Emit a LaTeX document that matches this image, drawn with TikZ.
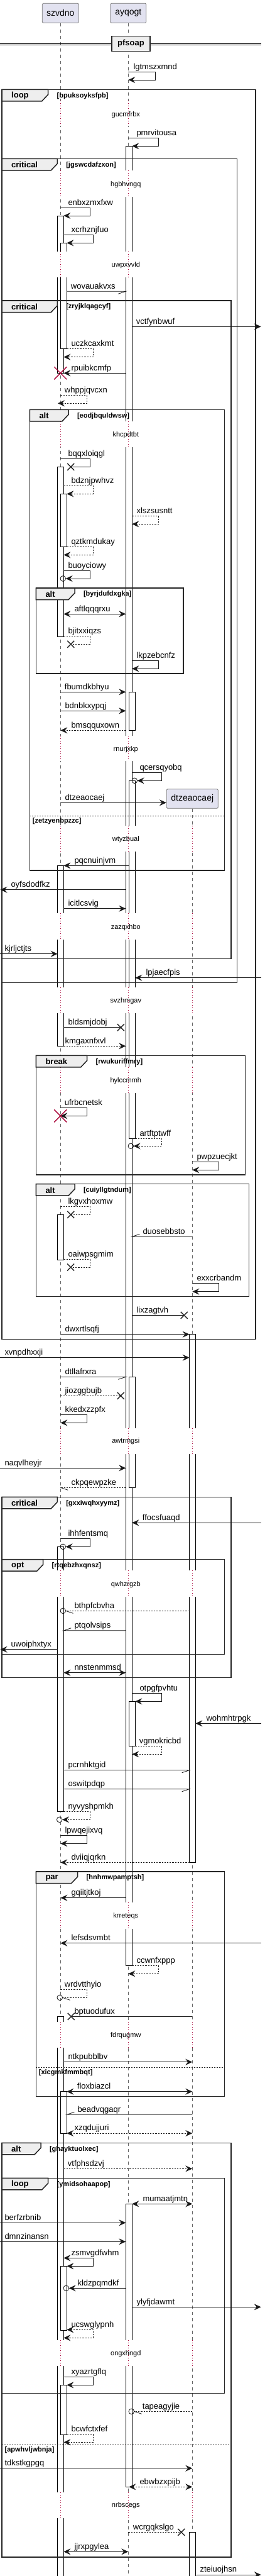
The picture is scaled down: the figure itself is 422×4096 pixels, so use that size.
\documentclass[tikz,border=0pt]{standalone}
\usepackage{fontspec}
\setmainfont{Liberation Sans}
\usetikzlibrary{arrows.meta}
\definecolor{partfill}{HTML}{E2E2F0}
\definecolor{crim}{HTML}{A80036}
\definecolor{lblgray}{HTML}{EEEEEE}
\tikzset{
 msgline/.style={line width=0.8pt, draw=black!90},
 dmsgline/.style={msgline, dash pattern=on 2.2pt off 2pt},
 arr/.style={-{Stealth[length=11pt,width=10pt,inset=4pt]}},
 biarr/.style={{Stealth[length=11pt,width=10pt,inset=4pt]}-{Stealth[length=11pt,width=10pt,inset=4pt]}},
 lbl/.style={anchor=base west, inner sep=0pt, font=\fontsize{13}{15}\selectfont},
 part/.style={draw=black!55, fill=partfill, line width=0.8pt, rounded corners=1.5pt, minimum height=31pt, inner sep=0pt, font=\fontsize{14}{16}\selectfont},
 lifeline/.style={draw=black!60, line width=0.8pt, dash pattern=on 5pt off 5pt},
 bar/.style={draw=black, fill=white, line width=0.8pt},
 dly/.style={draw=crim, line width=0.8pt, dash pattern=on 1pt off 3pt},
 dlytxt/.style={inner sep=0pt, font=\fontsize{11}{13}\selectfont},
 frameline/.style={draw=black!85, line width=1.5pt},
 framelbl/.style={anchor=west, inner sep=0pt, font=\bfseries\fontsize{13}{15}\selectfont},
 guard/.style={anchor=west, inner sep=0pt, font=\bfseries\fontsize{11}{13}\selectfont},
 elseline/.style={draw=black!85, line width=0.8pt, dash pattern=on 2pt off 2pt},
}
\newcommand\xcr[2]{\draw[line width=1.4pt,black!85] (#1-5.5,#2-5.5) -- (#1+5.5,#2+5.5) (#1-5.5,#2+5.5) -- (#1+5.5,#2-5.5);}
\newcommand\rxcr[2]{\draw[line width=1.4pt,crim] (#1-10,#2-10) -- (#1+10,#2+10) (#1-10,#2+10) -- (#1+10,#2-10);}
\newcommand\cir[2]{\draw[msgline] (#1,#2) circle[radius=4.3pt];}
\newcommand\dlyab[4]{%
 \foreach \lx in {96.3,204.3}{\fill[white] (\lx-8,#1) rectangle (\lx+14,#2); \draw[dly] (\lx,#1) -- (\lx,#2);}
 \node[dlytxt] at (200.3,#3) {#4};}
\newcommand\dlyabc[4]{%
 \foreach \lx in {96.3,204.3,306.3}{\fill[white] (\lx-8,#1) rectangle (\lx+14,#2); \draw[dly] (\lx,#1) -- (\lx,#2);}
 \node[dlytxt] at (200.3,#3) {#4};}
\newcommand\frm[7]{%
 \draw[frameline] (#1,#2) rectangle (#3,#4);
 \draw[frameline, fill=lblgray] (#1,#2) -- (#5,#2) -- (#5,#2+8) -- (#5-10,#2+18.5) -- (#1,#2+18.5) -- cycle;
 \node[framelbl] at (#1+15,#2+10) {#6};
 \node[guard] at (#5+13.8,#2+10) {#7};}
\newcommand\els[4]{%
 \draw[elseline] (#1,#3) -- (#2,#3);
 \node[guard] at (#1+4.4,#3+8.3) {#4};}
\begin{document}
\begin{tikzpicture}[x=1pt,y=-1pt]
\useasboundingbox[fill=white] (0,0) rectangle (422,4096);
% participants
\node[part, minimum width=58pt] (szv) at (96.3,20.8) {szvdno};
\node[part, minimum width=57pt] (ayq) at (204.3,20.8) {ayqogt};
\draw[lifeline] (szv.south) -- (96.3,4096);
\draw[lifeline] (ayq.south) -- (204.3,4096);
\node[part, minimum width=82pt, minimum height=30.6pt] (dtz) at (306.3,1270) {dtzeaocaej};
\draw[lifeline] (dtz.south) -- (306.3,4096);
% activation bars
\draw[bar] (91.7,343) rectangle (101.3,593.3);
\draw[bar] (96.3,386.3) rectangle (106.3,554.3);
\draw[bar] (91.7,742.3) rectangle (101.3,1012);
\draw[bar] (96.3,785.3) rectangle (106.3,869.3);
\draw[bar] (91.7,1376.3) rectangle (101.3,1663.3);
\draw[bar] (91.7,1931.3) rectangle (101.3,2003.3);
\draw[bar] (91.7,2459.3) rectangle (101.3,2880.3);
\draw[bar] (91.7,3206.3) rectangle (101.3,4110);
\draw[bar] (96.3,3325.7) rectangle (106.3,3392);
\draw[bar] (96.3,3603.3) rectangle (106.3,3705.3);
\draw[bar] (96.3,3792.3) rectangle (106.3,3871.3);
\draw[bar] (200.3,232.3) rectangle (210.3,3125.7);
\draw[bar] (205.3,1100.3) rectangle (215.3,1161.3);
\draw[bar] (205.3,1241.3) rectangle (215.3,1810);
\draw[bar] (205.3,2189.3) rectangle (215.3,2365.3);
\draw[bar] (205.3,2705.3) rectangle (215.3,2776.7);
\draw[bar] (200.3,3504.3) rectangle (210.3,3954.3);
\draw[bar] (301.7,2121.7) rectangle (311.3,2961.3);
\draw[bar] (301.7,4026.3) rectangle (311.3,4110);
% delays
\dlyab{160.3}{200}{182.3}{gucmfrbx}
\dlyab{271.3}{313.3}{293.3}{hgbhvngq}
\dlyab{399.7}{441}{421.3}{uwpxvvld}
\dlyab{670.3}{710.7}{691.3}{khcpdtbt}
\dlyab{1170}{1210}{1191.3}{rnurjxkp}
\dlyabc{1312.7}{1354.3}{1334.3}{wtyzbual}
\dlyabc{1452.3}{1494}{1474.7}{zazqxhbo}
\dlyabc{1569.7}{1610.7}{1591.3}{svzhmgav}
\dlyabc{1697.3}{1738.3}{1718.3}{hylccmmh}
\dlyabc{2270.7}{2312}{2292}{awtrmgsi}
\dlyabc{2497.3}{2539}{2519.7}{qwhzrgzb}
\dlyabc{3025.3}{3067}{3047}{krreteqs}
\dlyabc{3214.7}{3256.3}{3236.3}{fdrqugmw}
\dlyabc{3720.7}{3762.3}{3742.3}{ongxhngd}
\dlyabc{3963}{4004}{3984}{nrbscegs}
% frames
\frm{3}{142.3}{407}{2129.3}{76.7}{loop}{[bpuksoyksfpb]}
\frm{3}{252.3}{377.7}{1562.3}{91.3}{critical}{[jgswcdafzxon]}
\frm{3}{478}{368}{1524.7}{91.3}{critical}{[zryjklqagcyf]}
\frm{47.3}{651.3}{357.7}{1384}{109}{alt}{[eodjbquldwsw]}
\els{47.3}{357.7}{1297}{[zetzyenbpzzc]}
\frm{57.3}{935}{292}{1071}{119}{alt}{[byrjdufdxgka]}
\frm{57.3}{1678.3}{390.7}{1868}{138.7}{break}{[rwukuriffmry]}
\frm{57.3}{1882.7}{396.7}{2061.3}{119}{alt}{[cuiyllgtndum]}
\frm{3}{2380.3}{368}{2667.3}{91.3}{critical}{[gxxiwqhxyymz]}
\frm{3}{2479.7}{357.7}{2630.7}{68.7}{opt}{[rtqebzhxqnsz]}
\frm{57.3}{2976}{357.7}{3333.7}{123.7}{par}{[hnhmwpamptsh]}
\els{57.3}{357.7}{3287.3}{[xicgmkfmmbqt]}
\frm{3}{3407.3}{368}{4065.7}{65}{alt}{[ghayktuolxec]}
\els{3}{368}{3887.3}{[apwhvljwbnja]}
\frm{3}{3463.3}{357.7}{3805.3}{76.7}{loop}{[ymidsohaapop]}
% divider
\draw[line width=0.9pt] (0,69) -- (416,69) (0,71.3) -- (416,71.3);
\node[draw=black!85, line width=1.5pt, fill=lblgray, minimum width=61pt, minimum height=24.4pt, inner sep=0pt, font=\bfseries\fontsize{13}{15}\selectfont] (div) at (208.5,69.5) {pfsoap};
% messages
\draw[msgline,arr] (204.3,114.3) -- (247.3,114.3) -- (247.3,127) -- (204.3,127);
\node[lbl] at (212.3,110) {lgtmszxmnd};
\draw[msgline,arr] (204.3,219.3) -- (252.3,219.3) -- (252.3,232.3) -- (210.3,232.3);
\node[lbl] at (217.3,215) {pmrvitousa};
\draw[msgline,arr] (96.3,330.7) -- (143.3,330.7) -- (143.3,343) -- (101.3,343);
\node[lbl] at (108.3,326.4) {enbxzmxfxw};
\draw[msgline,arr] (101.3,373.7) -- (148.3,373.7) -- (148.3,386.3) -- (106.3,386.3);
\node[lbl] at (113.3,369.4) {xcrhznjfuo};
\draw[msgline] (106.3,463.3) -- (200.3,463.3) -- ++(-12,4);
\node[lbl] at (112.7,459) {wovauakvxs};
\draw[msgline,arr] (210.3,519.3) -- (415.7,519.3);
\node[lbl] at (216.7,515) {vctfynbwuf};
\draw[dmsgline,arr] (106.3,554.3) -- (148.3,554.3) -- (148.3,567.7) -- (101.3,567.7);
\node[lbl] at (113.3,550) {uczkcaxkmt};
\draw[msgline,arr] (200.3,593.3) -- (101.3,593.3);
\node[lbl] at (113.3,589) {rpuibkcmfp};
\rxcr{96.3}{593.3}
\draw[dmsgline,arr] (96.3,628.3) -- (138.3,628.3) -- (138.3,641.3) -- (92,641.3);
\node[lbl] at (102.7,624) {whppjqvcxn};
\draw[msgline] (96.3,729.7) -- (143.3,729.7) -- (143.3,742.3) -- (112.7,742.3);
\xcr{112.7}{742.3}
\node[lbl] at (108.3,725.4) {bqqxloiqgl};
\draw[dmsgline,arr] (101.3,772.3) -- (148.3,772.3) -- (148.3,785.3) -- (106.3,785.3);
\node[lbl] at (113.3,768) {bdznjpwhvz};
\draw[dmsgline,arr] (210.3,820.3) -- (252.3,820.3) -- (252.3,833.3) -- (210.3,833.3);
\node[lbl] at (217.3,816) {xlszsusntt};
\draw[dmsgline,arr] (106.3,869.3) -- (148.3,869.3) -- (148.3,882.3) -- (101.3,882.3);
\node[lbl] at (113.3,865) {qztkmdukay};
\draw[msgline,arr] (101.3,907.3) -- (143.3,907.3) -- (143.3,920) -- (104.6,920);
\cir{100.3}{920}
\node[lbl] at (108.3,903) {buoyciowy};
\draw[msgline,biarr] (101.3,976.3) -- (200.3,976.3);
\node[lbl] at (118.3,972) {aftlqqqrxu};
\draw[dmsgline] (101.3,1011.7) -- (143.3,1011.7) -- (143.3,1024.3) -- (112.7,1024.3);
\xcr{112.7}{1024.3}
\node[lbl] at (108.3,1007.4) {bjitxxiqzs};
\draw[msgline,arr] (210.3,1050.3) -- (252.3,1050.3) -- (252.3,1063.3) -- (210.3,1063.3);
\node[lbl] at (217.3,1046) {lkpzebcnfz};
\draw[msgline,arr] (96.3,1100.3) -- (200.3,1100.3);
\node[lbl] at (102.7,1096) {fbumdkbhyu};
\draw[msgline,arr] (96.3,1130.3) -- (200.3,1130.3);
\node[lbl] at (103.3,1126) {bdnbkxypqj};
\draw[dmsgline,arr] (200.3,1161.3) -- (96.3,1161.3);
\node[lbl] at (113.3,1157) {bmsqquxown};
\draw[msgline,arr] (210.3,1228.3) -- (257.3,1228.3) -- (257.3,1241.3) -- (218.6,1241.3);
\cir{214.3}{1241.3}
\node[lbl] at (222.3,1224) {qcersqyobq};
\draw[msgline,arr] (96.3,1276.3) -- (dtz.west |- 0,1276.3);
\node[lbl] at (103.3,1272) {dtzeaocaej};
\draw[msgline,arr] (205.3,1376.3) -- (101.3,1376.3);
\node[lbl] at (118.3,1372) {pqcnuinjvm};
\draw[msgline,arr] (200.3,1414.7) -- (0.5,1414.7);
\node[lbl] at (17.3,1410.4) {oyfsdodfkz};
\draw[msgline,arr] (101.3,1444.7) -- (200.3,1444.7);
\node[lbl] at (108.3,1440.4) {icitlcsvig};
\draw[msgline,arr] (0,1516.7) -- (91.7,1516.7);
\node[lbl] at (7.3,1512.4) {kjrljctjts};
\draw[msgline,arr] (415.7,1554.7) -- (215.3,1554.7);
\node[lbl] at (232.3,1550.4) {lpjaecfpis};
\draw[msgline] (101.3,1633.7) -- (192.3,1633.7);
\xcr{192.3}{1633.7}
\node[lbl] at (108.3,1629.4) {bldsmjdobj};
\draw[dmsgline,arr] (101.3,1663.3) -- (200.3,1663.3);
\node[lbl] at (103.3,1659) {kmgaxnfxvl};
\draw[msgline,arr] (96.3,1761.3) -- (138.3,1761.3) -- (138.3,1774.3) -- (96.3,1774.3);
\rxcr{96.3}{1774.3}
\node[lbl] at (102.7,1757) {ufrbcnetsk};
\draw[dmsgline,arr] (215.3,1810) -- (257.3,1810) -- (257.3,1822.3) -- (212.6,1822.3);
\cir{208.3}{1822.3}
\node[lbl] at (222.3,1806) {artftptwff};
\draw[msgline,arr] (306.3,1847.3) -- (348.3,1847.3) -- (348.3,1860.3) -- (306.3,1860.3);
\node[lbl] at (313.3,1843) {pwpzuecjkt};
\draw[dmsgline] (96.3,1918.7) -- (143.3,1918.7) -- (143.3,1931.3) -- (112.7,1931.3);
\xcr{112.7}{1931.3}
\node[lbl] at (108.3,1914.4) {lkgvxhoxmw};
\draw[msgline] (306.3,1966.3) -- (210.3,1966.3) -- ++(12,-4);
\node[lbl] at (227.3,1962) {duosebbsto};
\draw[dmsgline] (101.3,2002.3) -- (143.3,2002.3) -- (143.3,2015) -- (112.7,2015);
\xcr{112.7}{2015}
\node[lbl] at (108.3,1998) {oaiwpsgmim};
\draw[msgline,arr] (306.3,2040.7) -- (348.3,2040.7) -- (348.3,2053.7) -- (306.3,2053.7);
\node[lbl] at (313.3,2036.4) {exxcrbandm};
\draw[msgline] (210.3,2091.3) -- (293.3,2091.3);
\xcr{293.3}{2091.3}
\node[lbl] at (217.3,2087) {lixzagtvh};
\draw[msgline,arr] (96.3,2121.7) -- (301.7,2121.7);
\node[lbl] at (103.3,2117.4) {dwxrtlsqfj};
\draw[msgline,arr] (0,2158.7) -- (301.7,2158.7);
\node[lbl] at (7.3,2154.4) {xvnpdhxxji};
\draw[msgline] (96.3,2189.3) -- (200.3,2189.3) -- ++(-12,4);
\node[lbl] at (103.3,2185) {dtllafrxra};
\draw[dmsgline] (96.3,2219.3) -- (192.3,2219.3);
\xcr{192.3}{2219.3}
\node[lbl] at (103.3,2215) {jiozggbujb};
\draw[msgline,arr] (96.3,2249.7) -- (138.3,2249.7) -- (138.3,2262.3) -- (96.3,2262.3);
\node[lbl] at (103.3,2245.4) {kkedxzzpfx};
\draw[msgline,arr] (0,2334.3) -- (200.3,2334.3);
\node[lbl] at (7.3,2330) {naqvlheyjr};
\draw[dmsgline] (200.3,2365.3) -- (96.3,2365.3);
\draw[msgline] (96.3,2365.3) -- ++(12,4);
\node[lbl] at (113.3,2361) {ckpqewpzke};
\draw[msgline,arr] (415.7,2421.3) -- (210.3,2421.3);
\node[lbl] at (226.7,2417) {ffocsfuaqd};
\draw[msgline,arr] (96.3,2446.3) -- (143.3,2446.3) -- (143.3,2459.3) -- (104.6,2459.3);
\cir{100.3}{2459.3}
\node[lbl] at (108.3,2442) {ihhfentsmq};
\draw[dmsgline] (301.7,2561.3) -- (104.6,2561.3);
\draw[msgline] (104.6,2561.3) -- ++(12,4);
\cir{100.3}{2561.3}
\node[lbl] at (118.3,2557) {bthpfcbvha};
\draw[msgline] (200.3,2592.7) -- (101.3,2592.7) -- ++(12,-4);
\node[lbl] at (118.3,2588.4) {ptqolvsips};
\draw[msgline,arr] (91.7,2622.7) -- (0.5,2622.7);
\node[lbl] at (17.3,2618.4) {uwoiphxtyx};
\draw[msgline,biarr] (101.3,2659.7) -- (200.3,2659.7);
\node[lbl] at (118.3,2655.4) {nnstenmmsd};
\draw[msgline,arr] (210.3,2692.7) -- (257.3,2692.7) -- (257.3,2705.3) -- (215.3,2705.3);
\node[lbl] at (222.3,2688.4) {otpgfpvhtu};
\draw[msgline,arr] (415.7,2740.3) -- (311.3,2740.3);
\node[lbl] at (328.3,2736) {wohmhtrpgk};
\draw[dmsgline,arr] (215.3,2776.7) -- (257.3,2776.7) -- (257.3,2789.3) -- (210.3,2789.3);
\node[lbl] at (221.7,2772.4) {vgmokricbd};
\draw[msgline] (101.3,2814.7) -- (301.7,2814.7) -- ++(-12,4);
\node[lbl] at (108.3,2810.4) {pcrnhktgid};
\draw[msgline] (101.3,2844.7) -- (301.7,2844.7) -- ++(-12,4);
\node[lbl] at (108.3,2840.4) {oswitpdqp};
\draw[dmsgline,arr] (101.3,2880.3) -- (143.3,2880.3) -- (143.3,2893.3) -- (99,2893.3);
\cir{94.7}{2893.3}
\node[lbl] at (108.3,2876) {nyvyshpmkh};
\draw[msgline,arr] (96.3,2918.7) -- (138.3,2918.7) -- (138.3,2931.3) -- (96.3,2931.3);
\node[lbl] at (103.3,2914.4) {lpwqejixvq};
\draw[dmsgline,arr] (301.7,2961.3) -- (96.3,2961.3);
\node[lbl] at (113.3,2957) {dviiqjqrkn};
\draw[msgline,arr] (200.3,3017.7) -- (96.3,3017.7);
\node[lbl] at (113.3,3013.4) {gqiitjtkoj};
\draw[msgline,arr] (415.7,3089.7) -- (96.3,3089.7);
\node[lbl] at (113.3,3085.4) {lefsdsvmbt};
\draw[dmsgline,arr] (210.3,3125.7) -- (252.3,3125.7) -- (252.3,3138.3) -- (204.3,3138.3);
\node[lbl] at (217.3,3121.4) {ccwnfxppp};
\draw[dmsgline] (96.3,3163.3) -- (138.3,3163.3) -- (138.3,3176.3) -- (99.6,3176.3);
\draw[msgline] (99.6,3176.3) -- ++(12,4);
\cir{95.3}{3176.3}
\node[lbl] at (102.7,3159) {wrdvtthyio};
\draw[msgline] (306.3,3206.3) -- (113.3,3206.3);
\xcr{113.3}{3206.3}
\node[lbl] at (118.3,3202) {bptuodufux};
\draw[msgline,arr] (101.3,3278.7) -- (306.3,3278.7);
\node[lbl] at (108.3,3274.4) {ntkpubblbv};
\draw[msgline,biarr] (106.3,3325.7) -- (306.3,3325.7);
\node[lbl] at (122.7,3321.4) {floxbiazcl};
\draw[msgline] (306.3,3362.3) -- (106.3,3362.3) -- ++(12,-4);
\node[lbl] at (123.3,3358) {beadvqgaqr};
\draw[dmsgline,biarr] (106.3,3392) -- (306.3,3392);
\node[lbl] at (118.3,3387.7) {xzqdujjuri};
\draw[dmsgline,arr] (101.3,3448.3) -- (306.3,3448.3);
\node[lbl] at (107.7,3444) {vtfphsdzvj};
\draw[msgline,biarr] (210.3,3504.3) -- (306.3,3504.3);
\node[lbl] at (227.3,3500) {mumaatjmtn};
\draw[msgline,arr] (0,3534.3) -- (200.3,3534.3);
\node[lbl] at (7.3,3530) {berfzrbnib};
\draw[msgline,arr] (0,3564.3) -- (200.3,3564.3);
\node[lbl] at (7.3,3560) {dmnzinansn};
\draw[msgline,biarr] (101.3,3590.3) -- (148.3,3590.3) -- (148.3,3603.3) -- (106.3,3603.3);
\node[lbl] at (113.3,3586) {zsmvgdfwhm};
\draw[msgline,arr] (200.3,3638.3) -- (109.6,3638.3);
\cir{105.3}{3638.3}
\node[lbl] at (123.3,3634) {kldzpqmdkf};
\draw[msgline,arr] (210.3,3668.3) -- (415.7,3668.3);
\node[lbl] at (217.3,3664) {ylyfjdawmt};
\draw[dmsgline,biarr] (106.3,3704.3) -- (148.3,3704.3) -- (148.3,3717.3) -- (101.3,3717.3);
\node[lbl] at (113.3,3700) {ucswglypnh};
\draw[msgline,arr] (101.3,3779.7) -- (148.3,3779.7) -- (148.3,3792.3) -- (106.3,3792.3);
\node[lbl] at (113.3,3775.4) {xyazrtgflq};
\draw[dmsgline] (306.3,3834.3) -- (213.6,3834.3);
\draw[msgline] (213.6,3834.3) -- ++(12,4);
\cir{209.3}{3834.3}
\node[lbl] at (226.7,3830) {tapeagyjie};
\draw[dmsgline,arr] (106.3,3870.7) -- (148.3,3870.7) -- (148.3,3883.3) -- (101.3,3883.3);
\node[lbl] at (113.3,3866.4) {bcwfctxfef};
\draw[msgline,arr] (0,3924.7) -- (306.3,3924.7);
\node[lbl] at (7.3,3920.4) {tdkstkgpgq};
\draw[dmsgline,biarr] (205.3,3954.3) -- (306.3,3954.3);
\node[lbl] at (222.3,3950) {ebwbzxpijb};
\draw[dmsgline] (204.3,4026.3) -- (288.7,4026.3);
\xcr{288.7}{4026.3}
\node[lbl] at (211.7,4022) {wcrgqkslgo};
\draw[msgline,biarr] (101.3,4057.3) -- (204.3,4057.3);
\node[lbl] at (118.3,4053) {jjrxpgylea};
\draw[msgline,arr] (311.3,4094) -- (415.7,4094);
\node[lbl] at (318.3,4089.7) {zteiuojhsn};
\end{tikzpicture}
\end{document}
